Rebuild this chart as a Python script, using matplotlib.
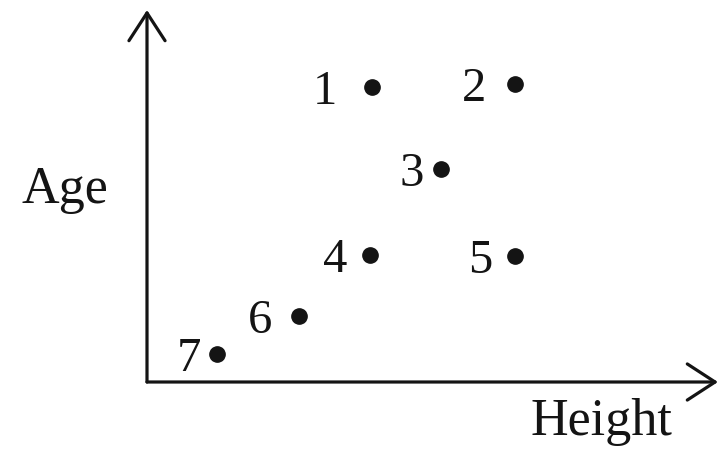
import matplotlib
matplotlib.use("Agg")
import matplotlib.pyplot as plt
from matplotlib.patches import ArrowStyle

# Seven individuals plotted by height and age
labels = ["1", "2", "3", "4", "5", "6", "7"]
height = [22.5, 36.8, 29.4, 22.3, 36.8, 15.2, 7.0]
age = [29.5, 29.8, 21.3, 12.7, 12.6, 6.6, 2.8]

# horizontal offset (points) of each number to the left of its dot
label_dx = [-25, -21, -12, -16.5, -16, -19, -11.5]

plt.rcParams["font.family"] = ["Liberation Serif", "DejaVu Serif"]
ink = "#141414"

fig = plt.figure(figsize=(7.2, 4.49), dpi=100)
ax = fig.add_axes([147 / 720, 67 / 449, 571 / 720, 372 / 449])
ax.set_xlim(0, 57.1)
ax.set_ylim(0, 37.2)
for s in ax.spines.values():
    s.set_visible(False)
ax.set_xticks([])
ax.set_yticks([])

style = ArrowStyle("->", head_length=1.0, head_width=0.65)
for end in [(1.0, 0.0), (0.0, 1.0)]:
    ax.annotate("", xy=end, xytext=(0, 0), xycoords="axes fraction",
                textcoords="axes fraction",
                arrowprops=dict(arrowstyle=style, mutation_scale=20,
                                color=ink, lw=2.3, shrinkA=0, shrinkB=0))

ax.plot(height, age, "o", color=ink, markersize=11, clip_on=False)
for lab, x, y, dx in zip(labels, height, age, label_dx):
    ax.annotate(lab, (x, y), xytext=(dx, -12.5), textcoords="offset points",
                ha="right", va="baseline", fontsize=35, color=ink)

fig.text(65 / 720, 1 - 190 / 449, "Age", ha="center", va="center",
         fontsize=37.5, color=ink)
fig.text(601 / 720, 1 - 435 / 449, "Height", ha="center", va="baseline",
         fontsize=37.5, color=ink)

fig.savefig("out.png", dpi=100, facecolor="white")
